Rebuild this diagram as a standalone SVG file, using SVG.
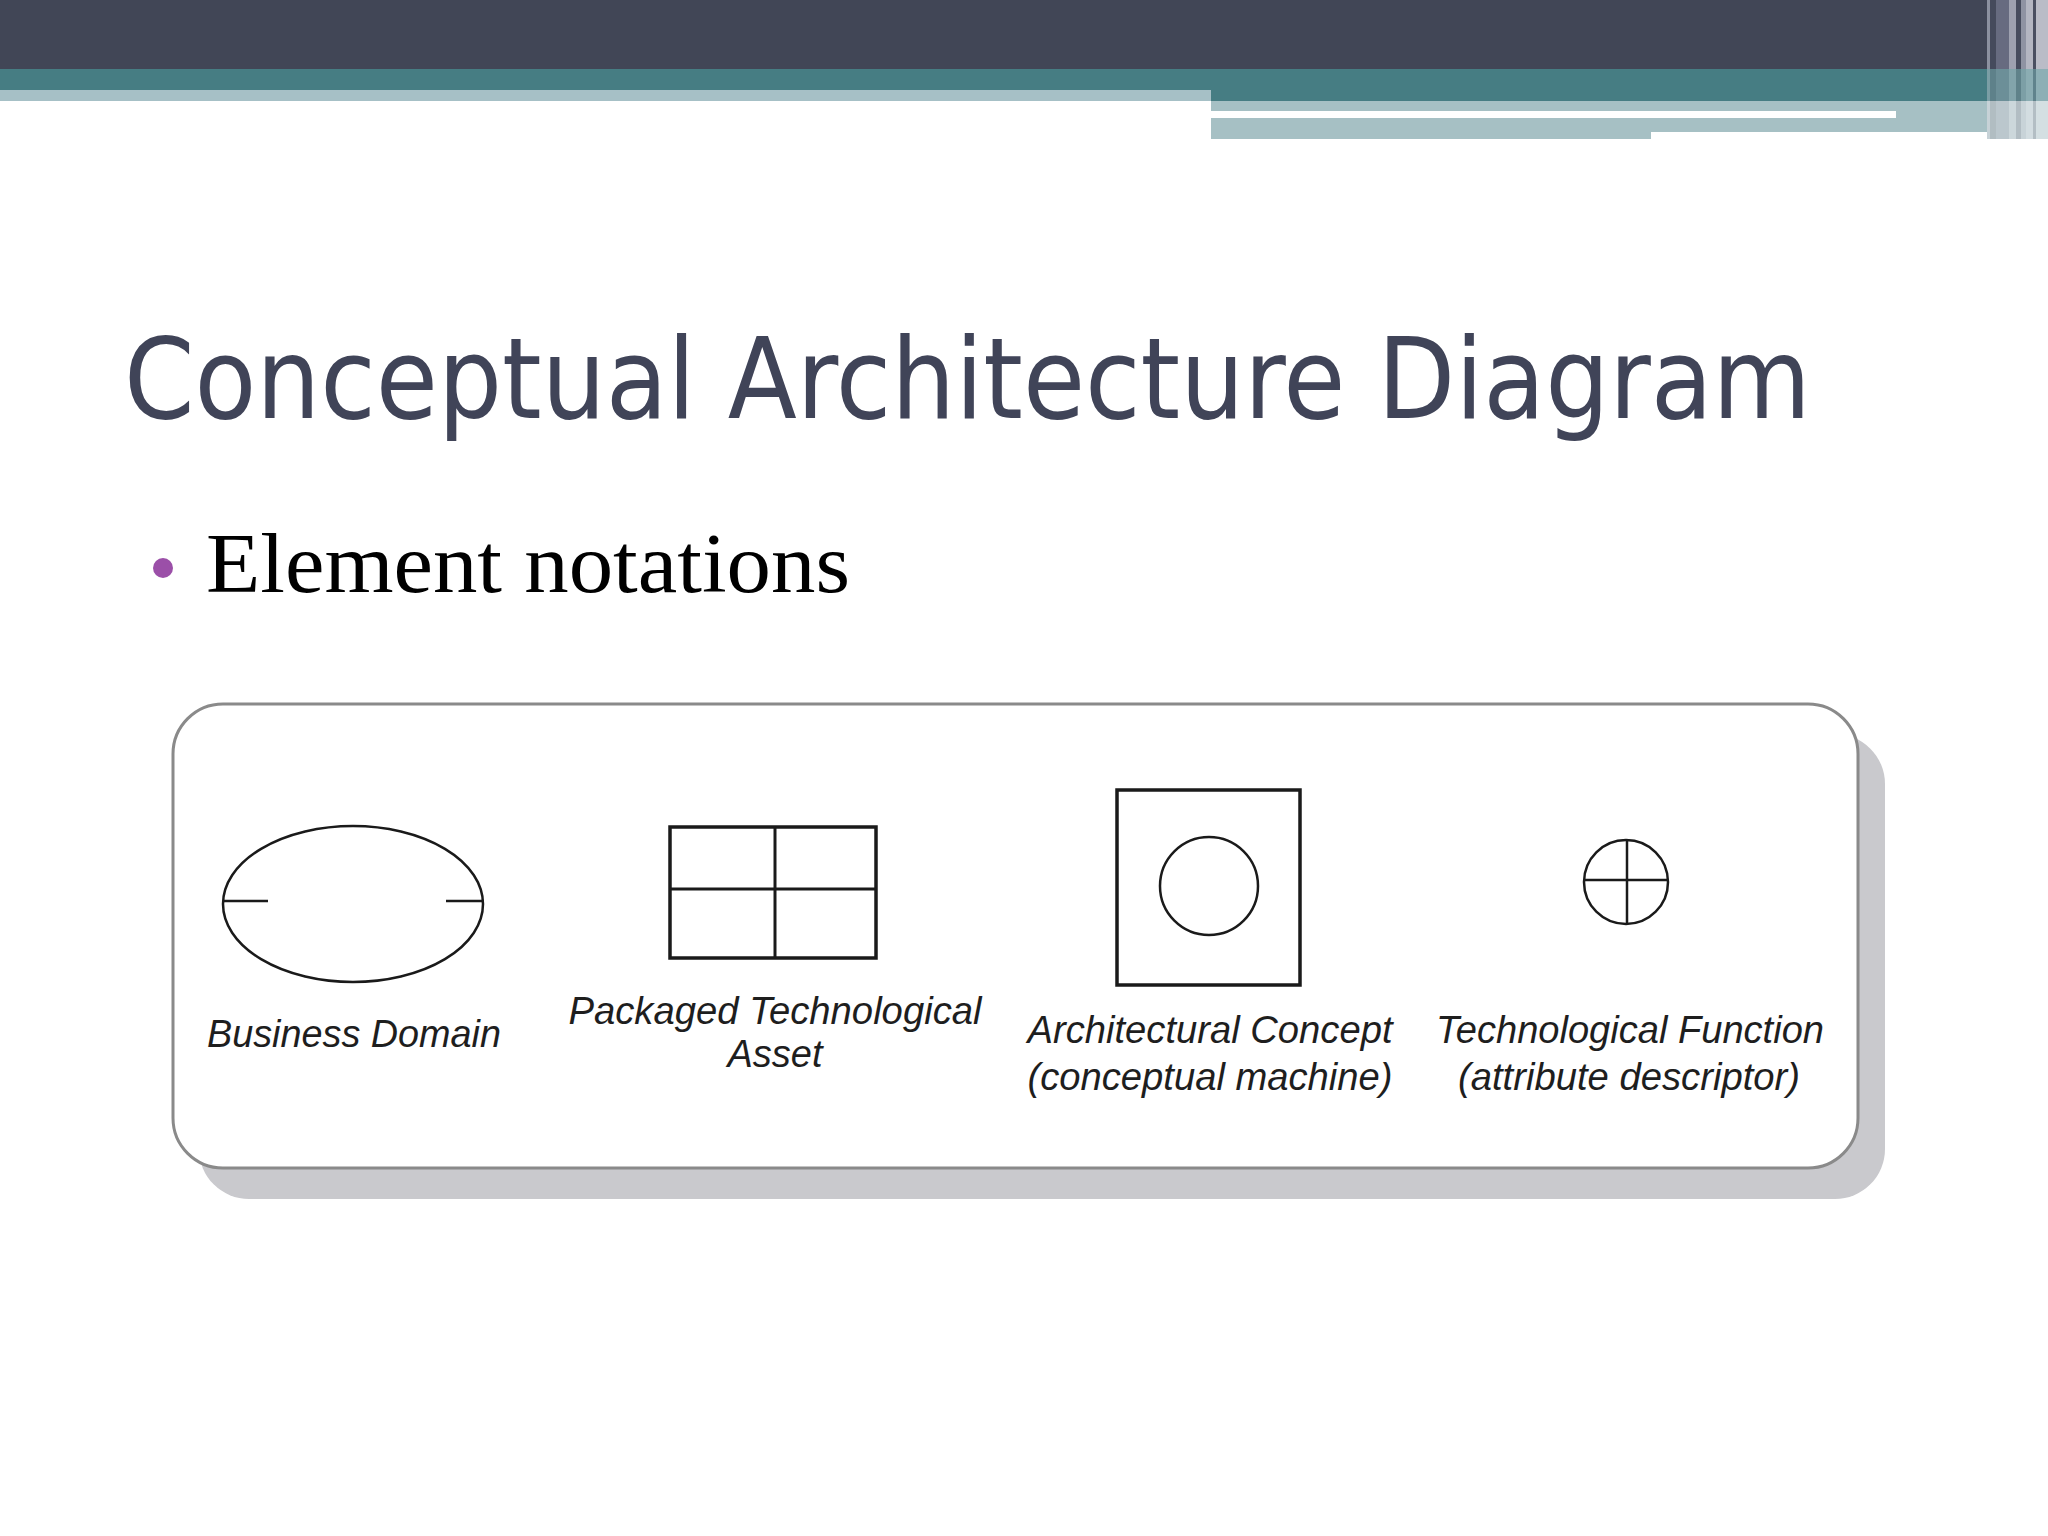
<svg xmlns="http://www.w3.org/2000/svg" width="2048" height="1536" viewBox="0 0 2048 1536">
<defs>
<style>
.lbl{font-family:"Liberation Sans",Arial,sans-serif;font-style:italic;font-size:38px;fill:#1e1e1e;text-anchor:middle}
.sym{fill:none;stroke:#1a1a1a}
</style>
</defs>
<rect width="2048" height="1536" fill="#ffffff"/>
<g id="header">
<rect x="0" y="0" width="2048" height="69" fill="#414656"/>
<rect x="0" y="69" width="2048" height="32" fill="#467d83"/>
<rect x="0" y="90" width="1211" height="11" fill="#a6c0c6"/>
<rect x="1211" y="101" width="837" height="38" fill="#a6c0c4"/>
<rect x="1211" y="111" width="685" height="7" fill="#ffffff"/>
<rect x="1651" y="132" width="360" height="8" fill="#ffffff"/>
<g id="stripes">
<rect x="1987" y="0" width="61" height="139" fill="#6a6f82" opacity="0.85"/>
<rect x="1987" y="0" width="3" height="139" fill="#8c91a0"/>
<rect x="1990" y="0" width="6" height="139" fill="#454a5c"/>
<rect x="1996" y="0" width="13" height="139" fill="#676b80"/>
<rect x="2009" y="0" width="7" height="139" fill="#9ea1b0"/>
<rect x="2016" y="0" width="5" height="139" fill="#474c5e"/>
<rect x="2021" y="0" width="5" height="139" fill="#8f93a3"/>
<rect x="2026" y="0" width="7" height="139" fill="#b4b6c2"/>
<rect x="2033" y="0" width="3" height="139" fill="#4a4f61"/>
<rect x="2036" y="0" width="12" height="139" fill="#babcc7"/>
<rect x="1987" y="69" width="61" height="32" fill="#6fa6a8" opacity="0.6"/>
<rect x="1987" y="101" width="61" height="38" fill="#dfeeee" opacity="0.7"/>
</g>
</g>
<g id="title">
<text x="124" y="418" font-family="'DejaVu Sans Condensed','DejaVu Sans',sans-serif" font-stretch="condensed" font-size="112" fill="#404458" textLength="1687" lengthAdjust="spacingAndGlyphs">Conceptual Architecture Diagram</text>
</g>
<g id="bullet">
<circle cx="163" cy="568" r="10" fill="#9b4fa8"/>
<text x="206" y="592" font-family="'Liberation Serif','Times New Roman',serif" font-size="84" fill="#000000" textLength="644" lengthAdjust="spacingAndGlyphs">Element notations</text>
</g>
<g id="panel">
<rect x="199" y="734" width="1686" height="465" rx="50" ry="50" fill="#c9c9cd"/>
<rect x="173" y="704" width="1685" height="464" rx="50" ry="50" fill="#ffffff" stroke="#8a8a8a" stroke-width="3"/>
</g>
<g id="node-business-domain">
<ellipse class="sym" cx="353" cy="904" rx="130" ry="78" stroke-width="2.5"/>
<line class="sym" x1="223" y1="901" x2="268" y2="901" stroke-width="2.5"/>
<line class="sym" x1="446" y1="901" x2="484" y2="901" stroke-width="2.5"/>
<text class="lbl" x="354" y="1047" textLength="294" lengthAdjust="spacingAndGlyphs">Business Domain</text>
</g>
<g id="node-packaged-asset">
<rect class="sym" x="670" y="827" width="206" height="131" stroke-width="3.5"/>
<line class="sym" x1="775" y1="827" x2="775" y2="958" stroke-width="3"/>
<line class="sym" x1="670" y1="889" x2="876" y2="889" stroke-width="3"/>
<text class="lbl" x="775" y="1024" textLength="413" lengthAdjust="spacingAndGlyphs">Packaged Technological</text>
<text class="lbl" x="775" y="1067">Asset</text>
</g>
<g id="node-architectural-concept">
<rect class="sym" x="1117" y="790" width="183" height="195" stroke-width="3.5"/>
<circle class="sym" cx="1209" cy="886" r="49" stroke-width="2.5"/>
<text class="lbl" x="1210" y="1043" textLength="365" lengthAdjust="spacingAndGlyphs">Architectural Concept</text>
<text class="lbl" x="1210" y="1090" textLength="365" lengthAdjust="spacingAndGlyphs">(conceptual machine)</text>
</g>
<g id="node-technological-function">
<circle class="sym" cx="1626" cy="882" r="42" stroke-width="2.5"/>
<line class="sym" x1="1584" y1="880" x2="1668" y2="880" stroke-width="2.5"/>
<line class="sym" x1="1627" y1="840" x2="1627" y2="924" stroke-width="2.5"/>
<text class="lbl" x="1630" y="1043" textLength="388" lengthAdjust="spacingAndGlyphs">Technological Function</text>
<text class="lbl" x="1629" y="1090" textLength="342" lengthAdjust="spacingAndGlyphs">(attribute descriptor)</text>
</g>
<g id="connectors"></g>
</svg>
